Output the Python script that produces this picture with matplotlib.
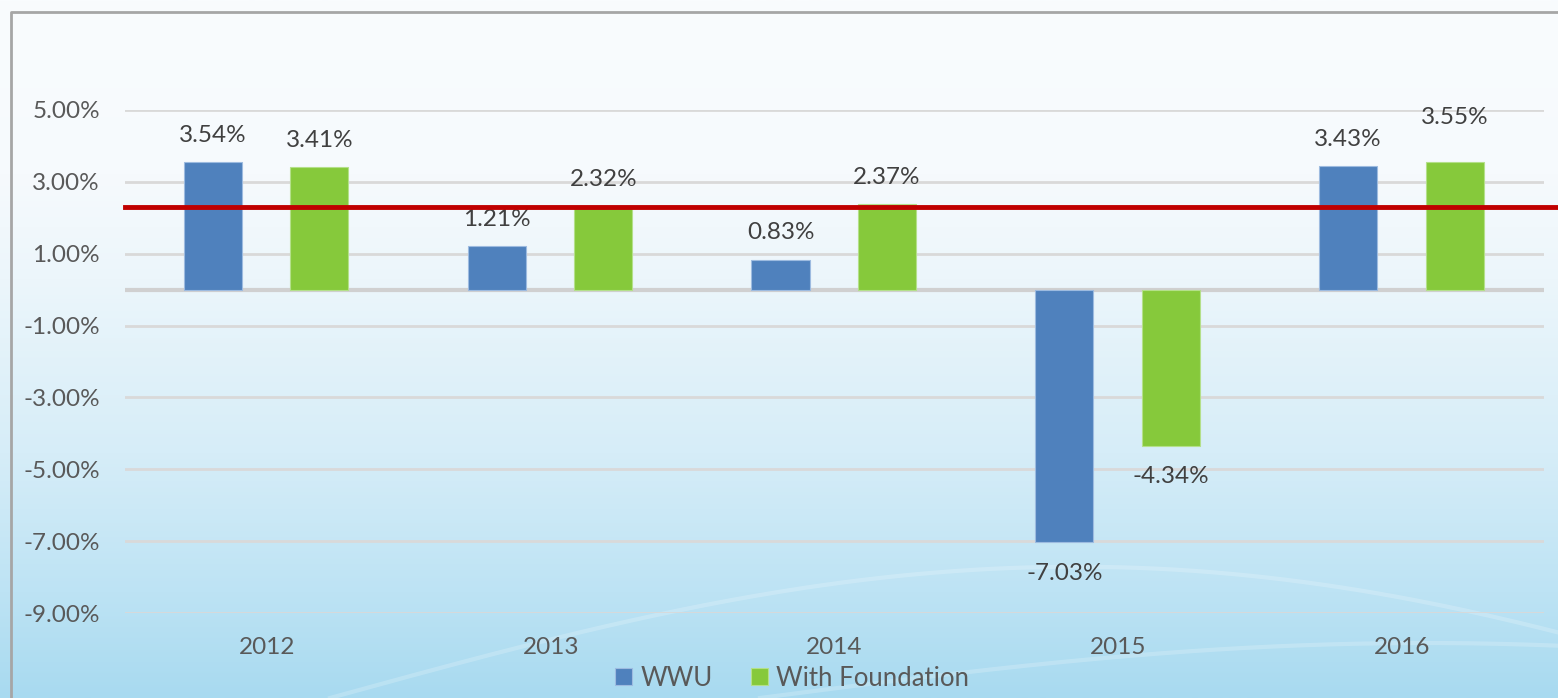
import numpy as np
import matplotlib.pyplot as plt
from matplotlib.colors import LinearSegmentedColormap

years = ['2012', '2013', '2014', '2015', '2016']
wwu = [3.54, 1.21, 0.83, -7.03, 3.43]
foundation = [3.41, 2.32, 2.37, -4.34, 3.55]
target = 2.30
yticks = [5, 3, 1, -1, -3, -5, -7, -9]

BLUE = '#4f81bd'
GREEN = '#86c93b'
RED = '#c00000'
TXT = '#404040'
TICK = '#595959'

plt.rcParams['font.family'] = ['Lato', 'DejaVu Sans']

fig = plt.figure(figsize=(15.58, 6.98), dpi=100)

# background panel: pale at the top, light blue at the bottom
bg = fig.add_axes([0, 0, 1, 1], zorder=-10)
cmap = LinearSegmentedColormap.from_list('sky', [
    (0.0, '#a8daf0'), (0.15, '#bde3f4'), (0.35, '#d6edf8'),
    (0.6, '#ecf6fb'), (0.75, '#f6fafd'), (1.0, '#f9fcfe')])
grad = np.linspace(0, 1, 256).reshape(-1, 1)
bg.imshow(grad, aspect='auto', cmap=cmap, extent=[0, 1, 0, 1], origin='lower')
# faint swooshes
t = np.linspace(0, 1, 200)
sx = 330 + t * (1558 - 330)
sy = 698 - 150 * np.sin(np.pi * t * 0.78) + 30 * t
bg.plot(sx / 1558, 1 - sy / 698, color='white', alpha=0.2, lw=3)
sx2 = 760 + t * (1558 - 760)
sy2 = 698 - 55 * np.sin(np.pi * t * 0.6)
bg.plot(sx2 / 1558, 1 - sy2 / 698, color='white', alpha=0.2, lw=3)
# frame
bg.plot([11 / 1558, 11 / 1558, 1], [0, 1 - 12 / 698, 1 - 12 / 698],
        color='#a6a6a6', lw=2)
bg.set_xlim(0, 1)
bg.set_ylim(0, 1)
bg.axis('off')

ax = fig.add_axes([125 / 1558, 1 - 613 / 698, 1419 / 1558, 503 / 698])
ax.patch.set_alpha(0)

x = np.arange(len(years))
w = 0.205
b1 = ax.bar(x - 0.19, wwu, w, color=BLUE, edgecolor='#9dbbe0', lw=0.8, zorder=3)
b2 = ax.bar(x + 0.185, foundation, w, color=GREEN, edgecolor='#b4e08a', lw=0.8, zorder=3)

ax.set_xlim(-0.5, 4.5)
ax.set_ylim(-9, 5)
ax.set_yticks(yticks)
ax.set_yticklabels(['%.2f%%' % v for v in yticks])
ax.set_xticks(x)
ax.set_xticklabels(years)
ax.tick_params(length=0, labelsize=17.5, labelcolor=TICK)
ax.tick_params(axis='y', pad=18)
ax.tick_params(axis='x', pad=17)
ax.grid(axis='y', color='#d9d9d9', lw=2, zorder=0)
ax.axhline(0, color='#d0d0d0', lw=3, zorder=1)
for s in ax.spines.values():
    s.set_visible(False)

# target line runs off the right edge of the plot
ax.plot([0, 1.01], [target, target], color=RED, lw=3.5, zorder=4,
        transform=ax.get_yaxis_transform(), clip_on=False)

offsets = {(1, 4): 45}
for j, (bars, vals) in enumerate([(b1, wwu), (b2, foundation)]):
    for i, (r, v) in enumerate(zip(bars, vals)):
        off = offsets.get((j, i), 27)
        dy = off if v >= 0 else -31
        ax.annotate('%.2f%%' % v, (r.get_x() + r.get_width() / 2, v),
                    xytext=(0, dy), textcoords='offset pixels',
                    ha='center', va='center', fontsize=17.5, color=TXT)

fig.legend([b1, b2], ['WWU', 'With Foundation'], loc='center',
           bbox_to_anchor=(792 / 1558, 1 - 678 / 698), ncol=2, frameon=False,
           fontsize=18.5, labelcolor=TICK, handlelength=0.68, handleheight=0.68,
           handletextpad=0.3, columnspacing=1.5)

fig.savefig('out.png', dpi=100)
